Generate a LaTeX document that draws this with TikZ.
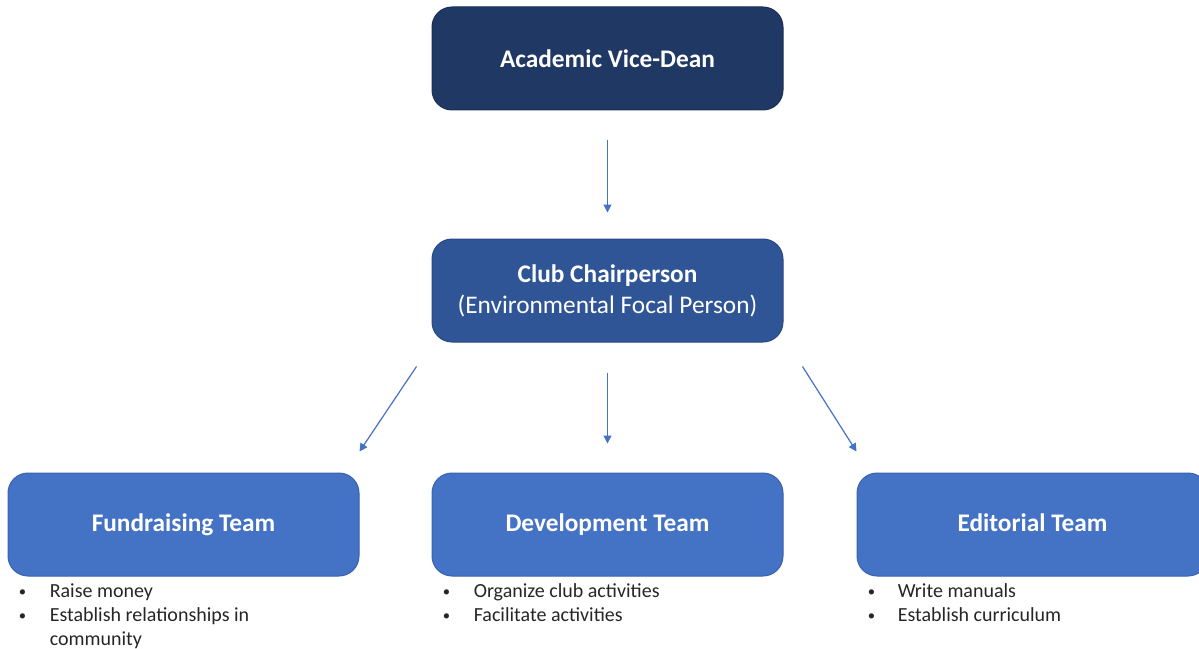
\documentclass[tikz,border=0pt]{standalone}
\usepackage{fontspec}
\setmainfont{Carlito}
\usetikzlibrary{positioning,arrows.meta}

\definecolor{navy}{HTML}{203864}
\definecolor{chairblue}{HTML}{2F5597}
\definecolor{teamblue}{HTML}{4472C4}
\definecolor{teamedge}{HTML}{3A63AE}

\newcommand{\dotitem}{\raisebox{0.15ex}{\fontsize{11}{11}\selectfont\textbullet}}

\begin{document}
\begin{tikzpicture}[x=0.75pt,y=-0.75pt,
  box/.style={rectangle,rounded corners=15pt,minimum width=263.25pt,minimum height=77.25pt,
    text=white,font=\fontsize{19}{23.25}\selectfont,align=center,line width=0.75pt},
  link/.style={draw=teamblue,line width=0.9pt,-{Triangle[length=6pt,width=6pt]}},
  items/.style={anchor=north west,inner sep=0pt,text=black!85,font=\fontsize{15}{18}\selectfont}]
\useasboundingbox (0,0) rectangle (1199,649);

% boxes
\node[box,fill=navy,draw=navy!85!black] (dean) at (607.5,58.5) {\bfseries Academic Vice-Dean};
\node[box,fill=chairblue,draw=chairblue!85!black,below=96pt of dean] (chair)
  {\textbf{Club Chairperson}\\(Environmental Focal Person)};
\node[box,fill=teamblue,draw=teamedge,below=97.5pt of chair] (dev) {\bfseries Development Team};
\node[box,fill=teamblue,draw=teamedge,left=54pt of dev] (fund) {\bfseries Fundraising Team};
\node[box,fill=teamblue,draw=teamedge,right=54.75pt of dev] (edit) {\bfseries Editorial Team\vphantom{g}};

% arrows
\draw[link,shorten <=22.5pt,shorten >=19.5pt] (dean) -- (chair);
\draw[link,shorten <=22.5pt,shorten >=21.75pt] (chair) -- (dev);
\draw[link] ([xshift=-11.25pt,yshift=-18pt]chair.south west) -- ([yshift=15.75pt]fund.north east);
\draw[link] ([xshift=14.25pt,yshift=-18pt]chair.south east) -- ([yshift=15.75pt]edit.north west);

% task lists
\node[items] (fundlist) at ([xshift=8.25pt,yshift=-3pt]fund.south west)
  {\begin{tabular}{@{}p{23.25pt}@{}l@{}}
   \dotitem & Raise money\\
   \dotitem & Establish relationships in\\
            & community
   \end{tabular}};
\node[items] (devlist) at ([xshift=8.25pt,yshift=-3pt]dev.south west)
  {\begin{tabular}{@{}p{23.25pt}@{}l@{}}
   \dotitem & Organize club activities\\
   \dotitem & Facilitate activities
   \end{tabular}};
\node[items] (editlist) at ([xshift=8.25pt,yshift=-3pt]edit.south west)
  {\begin{tabular}{@{}p{22.5pt}@{}l@{}}
   \dotitem & Write manuals\\
   \dotitem & Establish curriculum
   \end{tabular}};

\end{tikzpicture}
\end{document}
